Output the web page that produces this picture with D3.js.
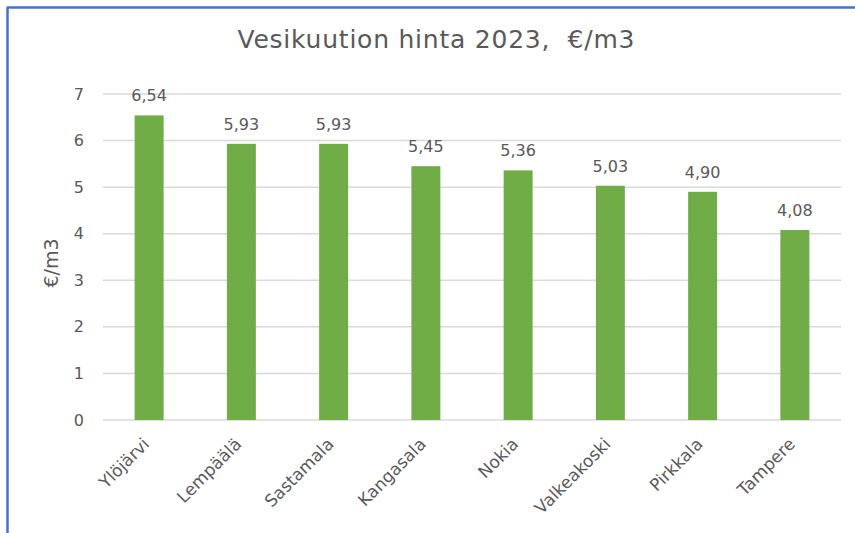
<!DOCTYPE html>
<html>
<head>
<meta charset="utf-8">
<script src="https://cdn.jsdelivr.net/npm/d3@7"></script>
<style>
  body { margin: 0; background: #fff; }
  svg { display: block; font-family: "DejaVu Sans", "Open Sans", sans-serif; }
</style>
</head>
<body>
<svg id="chart" width="855" height="533"></svg>
<script>
const titleText = "Vesikuution hinta 2023,  €/m3";
const yTitle = "€/m3";
const municipalities = ["Ylöjärvi", "Lempäälä", "Sastamala", "Kangasala", "Nokia", "Valkeakoski", "Pirkkala", "Tampere"];
const prices = [6.54, 5.93, 5.93, 5.45, 5.36, 5.03, 4.90, 4.08];
const yTicks = [0, 1, 2, 3, 4, 5, 6, 7];

const W = 855, H = 533;
const margin = { left: 103, right: 14, top: 94, bottom: 113 };
const svg = d3.select("#chart");
const textColor = "#595959";

// frame (only top + left edges visible in the crop)
svg.append("line").attr("x1", 7).attr("x2", W).attr("y1", 7.5).attr("y2", 7.5)
   .attr("stroke", "#4472C4").attr("stroke-width", 2.5);
svg.append("line").attr("x1", 7.5).attr("x2", 7.5).attr("y1", 7).attr("y2", H)
   .attr("stroke", "#4472C4").attr("stroke-width", 2.5);

const x = d3.scaleBand().domain(municipalities)
  .range([margin.left, W - margin.right]).paddingInner(0.686).paddingOuter(0.343);
const y = d3.scaleLinear().domain([0, 7]).range([H - margin.bottom, margin.top]);

// gridlines
svg.append("g").selectAll("line").data(yTicks).join("line")
   .attr("x1", margin.left).attr("x2", W - margin.right)
   .attr("y1", d => y(d)).attr("y2", d => y(d))
   .attr("stroke", "#d9d9d9").attr("stroke-width", 1.5);

// y tick labels
svg.append("g").selectAll("text").data(yTicks).join("text")
   .attr("x", 84).attr("y", d => y(d)).attr("dy", "0.35em")
   .attr("text-anchor", "end").attr("fill", textColor).style("font-size", "16px")
   .text(d => d);

// bars
svg.append("g").selectAll("rect").data(prices).join("rect")
   .attr("x", (d, i) => x(municipalities[i])).attr("width", x.bandwidth())
   .attr("y", d => y(d)).attr("height", d => y(0) - y(d))
   .attr("fill", "#70AD47");

// value labels
svg.append("g").selectAll("text").data(prices).join("text")
   .attr("x", (d, i) => x(municipalities[i]) + x.bandwidth() / 2)
   .attr("y", d => y(d) - 14)
   .attr("text-anchor", "middle").attr("fill", textColor).style("font-size", "16px")
   .text(d => d3.format(".2f")(d).replace(".", ","));

// x labels
svg.append("g").selectAll("text").data(municipalities).join("text")
   .attr("transform", d => `translate(${x(d) + x.bandwidth() / 2 - 3},${y(0) + 21}) rotate(-45)`)
   .attr("text-anchor", "end").attr("dy", "0.35em")
   .attr("fill", textColor).style("font-size", "17px")
   .text(d => d);

// title
svg.append("text").attr("x", 436).attr("y", 48)
   .attr("text-anchor", "middle").attr("fill", textColor).style("font-size", "25px")
   .style("white-space", "pre")
   .attr("textLength", 397).attr("lengthAdjust", "spacing")
   .text(titleText);

// y axis title
svg.append("text").attr("transform", `translate(51,${(y(0) + y(7)) / 2 + 6}) rotate(-90)`)
   .attr("text-anchor", "middle").attr("dy", "0.35em")
   .attr("fill", textColor).style("font-size", "19px")
   .text(yTitle);
</script>
</body>
</html>
